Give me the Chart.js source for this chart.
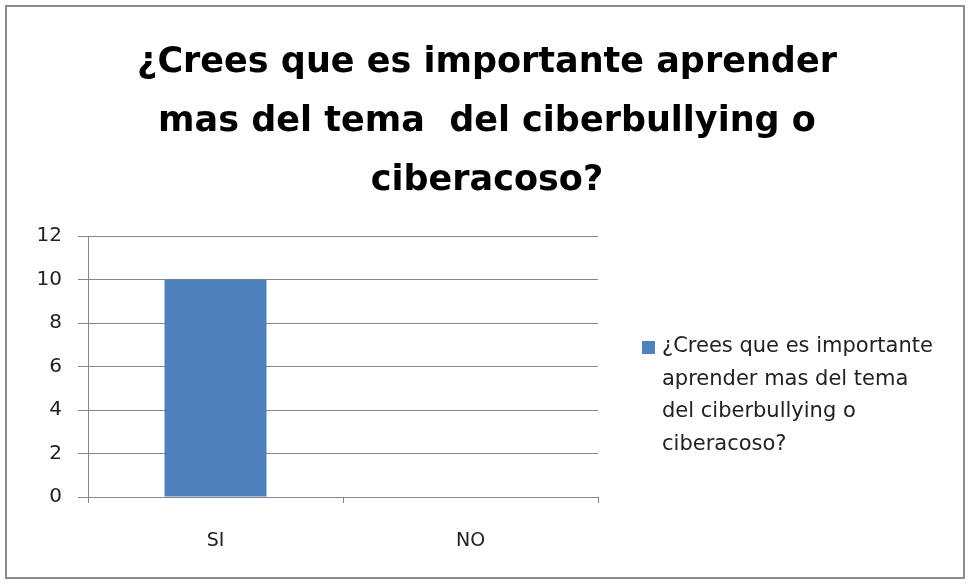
<!DOCTYPE html>
<html>
<head>
<meta charset="utf-8">
<script src="https://cdn.jsdelivr.net/npm/chart.js@4/dist/chart.umd.min.js"></script>
<style>
  html, body { margin: 0; padding: 0; background: #fff; }
  #wrap { width: 971px; height: 584px; }
  canvas { display: block; }
</style>
</head>
<body>
<div id="wrap"><canvas id="chart" width="971" height="584"></canvas></div>
<script>
// Data
const categories = ['SI', 'NO'];
const seriesValues = [10, 0];
const seriesName = '¿Crees que es importante aprender mas del tema del ciberbullying o ciberacoso?';
const titleLines = [
  '¿Crees que es importante aprender',
  'mas del tema  del ciberbullying o',
  'ciberacoso?'
];
const legendLines = [
  '¿Crees que es importante',
  'aprender mas del tema',
  'del ciberbullying o',
  'ciberacoso?'
];

const BAR_COLOR = '#4F81BD';
const GRID_COLOR = '#878787';
const FONT = '"DejaVu Sans", "Open Sans", sans-serif';

// white background + outer frame
const framePlugin = {
  id: 'frame',
  beforeDraw(chart) {
    const ctx = chart.ctx;
    ctx.save();
    ctx.fillStyle = '#fff';
    ctx.fillRect(0, 0, chart.width, chart.height);
    ctx.strokeStyle = '#8c8c8c';
    ctx.lineWidth = 2;
    ctx.strokeRect(6, 6, 958, 572);
    ctx.restore();
  }
};

// title centred on the whole frame
const bigTitle = {
  id: 'bigTitle',
  afterDraw(chart) {
    const ctx = chart.ctx;
    ctx.save();
    ctx.fillStyle = '#000';
    ctx.font = 'bold 35px ' + FONT;
    ctx.textAlign = 'center';
    ctx.textBaseline = 'middle';
    titleLines.forEach((line, i) => {
      ctx.fillText(line, 487, 63 + i * 59);
    });
    ctx.restore();
  }
};

// wrapped legend at the right side
const sideLegend = {
  id: 'sideLegend',
  afterDraw(chart) {
    const ctx = chart.ctx;
    const x = chart.chartArea.right + 44;
    const y0 = 347;
    ctx.save();
    ctx.fillStyle = chart.data.datasets[0].backgroundColor;
    ctx.fillRect(x, y0 - 6, 13, 13);
    ctx.fillStyle = '#222';
    ctx.font = '21px ' + FONT;
    ctx.textBaseline = 'middle';
    legendLines.forEach((line, i) => {
      ctx.fillText(line, x + 20, y0 + i * 32.5);
    });
    ctx.restore();
  }
};

new Chart(document.getElementById('chart'), {
  type: 'bar',
  data: {
    labels: categories,
    datasets: [{
      label: seriesName,
      data: seriesValues,
      backgroundColor: BAR_COLOR,
      categoryPercentage: 1,
      barPercentage: 0.4
    }]
  },
  options: {
    responsive: false,
    animation: false,
    layout: { padding: { left: 0, right: 373, top: 236, bottom: 27 } },
    plugins: {
      legend: { display: false },
      tooltip: { enabled: false },
      title: { display: false }
    },
    scales: {
      x: {
        afterFit(scale) { scale.height = 60; },
        grid: {
          drawOnChartArea: false,
          drawTicks: true,
          tickLength: 6,
          color: GRID_COLOR
        },
        border: { color: GRID_COLOR },
        ticks: { color: '#222', font: { family: FONT, size: 19 }, padding: 27 }
      },
      y: {
        min: 0,
        max: 12,
        afterFit(scale) { scale.width = 88; },
        ticks: { stepSize: 2, color: '#222', font: { family: FONT, size: 20 }, padding: 16 },
        grid: { color: GRID_COLOR, tickLength: 10 },
        border: { color: GRID_COLOR }
      }
    }
  },
  plugins: [framePlugin, bigTitle, sideLegend]
});
</script>
</body>
</html>
